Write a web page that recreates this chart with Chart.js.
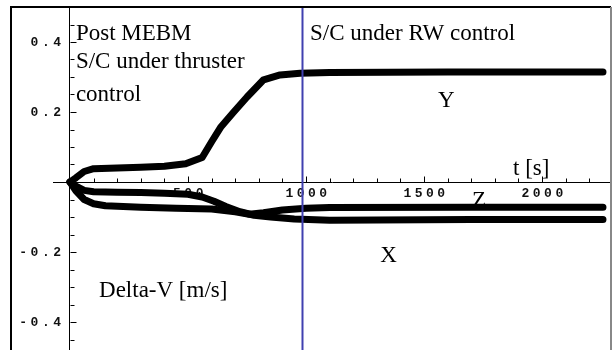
<!DOCTYPE html>
<html>
<head>
<meta charset="utf-8">
<script src="https://cdn.jsdelivr.net/npm/chart.js@4"></script>
<style>
  html, body { margin: 0; padding: 0; background: #fff; }
  #wrap { width: 613px; height: 350px; }
</style>
</head>
<body>
<div id="wrap"><canvas id="DeltaVChart" width="613" height="350"></canvas></div>
<script>
// ================= Data =================
const yTime  = [0, 25, 60, 100, 200, 300, 400, 490, 560, 600, 640, 690, 750, 820, 890, 975, 1100, 1600, 2258];
const yDelta = [0, 0.012, 0.03, 0.038, 0.04, 0.042, 0.045, 0.052, 0.07, 0.115, 0.158, 0.197, 0.243, 0.292, 0.306, 0.311, 0.313, 0.314, 0.314];

const xTime  = [0, 25, 60, 100, 200, 300, 400, 500, 560, 610, 660, 720, 780, 850, 950, 1100, 1500, 1700, 2258];
const xDelta = [0, -0.012, -0.024, -0.028, -0.029, -0.03, -0.032, -0.035, -0.043, -0.055, -0.07, -0.085, -0.095, -0.1, -0.106, -0.109, -0.108, -0.107, -0.107];

const zTime  = [0, 25, 60, 100, 150, 300, 450, 600, 700, 760, 820, 900, 1000, 1100, 1700, 2258];
const zDelta = [0, -0.025, -0.05, -0.062, -0.068, -0.072, -0.075, -0.077, -0.085, -0.092, -0.088, -0.08, -0.075, -0.073, -0.072, -0.072];

const switchTime = 985; // thruster -> RW control

const xTickLabels = [500, 1000, 1500, 2000];
const yTickLabels = [0.4, 0.2, -0.2, -0.4];

// text notes, placed in data coordinates
const noteText = ['Post MEBM', 'S/C under thruster', 'control', 'S/C under RW control', 'Y', 't [s]', 'Z', 'X', 'Delta-V [m/s]'];
const noteT    = [25, 25, 25, 1017, 1559, 1877, 1703, 1314, 123];
const noteV    = [0.406, 0.326, 0.232, 0.406, 0.214, 0.02, -0.071, -0.229, -0.329];

const toPoints = (ts, vs) => ts.map((t, i) => ({ x: t, y: vs[i] }));

// ================= Axes decoration (Mathematica style) =================
const axisDecor = {
  id: 'axisDecor',
  beforeDatasetsDraw(chart) {
    const { ctx, scales: { x, y } } = chart;
    const x0 = Math.round(x.getPixelForValue(0)) + 0.5;
    const y0 = Math.round(y.getPixelForValue(0)) + 0.5;
    ctx.save();
    ctx.strokeStyle = '#000';
    ctx.lineWidth = 1;

    // x ticks every 100, pointing up
    for (let t = 100; t <= 2200; t += 100) {
      const px = Math.round(x.getPixelForValue(t)) + 0.5;
      const len = xTickLabels.includes(t) ? 6 : 4;
      ctx.beginPath(); ctx.moveTo(px, y0); ctx.lineTo(px, y0 - len); ctx.stroke();
    }
    // y ticks every 0.05, pointing right
    for (let k = -9; k <= 9; k++) {
      if (k === 0) continue;
      const py = Math.round(y.getPixelForValue(k * 0.05)) + 0.5;
      const len = k % 4 === 0 ? 6 : 4;
      ctx.beginPath(); ctx.moveTo(x0, py); ctx.lineTo(x0 + len, py); ctx.stroke();
    }

    // tick labels
    ctx.fillStyle = '#111';
    ctx.font = 'bold 13px "Liberation Mono"';
    ctx.letterSpacing = '3.5px';
    ctx.textAlign = 'center';
    ctx.textBaseline = 'top';
    xTickLabels.forEach(t => ctx.fillText(String(t), x.getPixelForValue(t) + 2, y0 + 5));
    ctx.textAlign = 'right';
    ctx.textBaseline = 'middle';
    yTickLabels.forEach(v => ctx.fillText(String(v), x0 - 6, y.getPixelForValue(v) + 1));

    // notes
    ctx.letterSpacing = '0px';
    ctx.fillStyle = '#000';
    ctx.font = '23px "Liberation Serif"';
    ctx.textAlign = 'left';
    ctx.textBaseline = 'alphabetic';
    noteText.forEach((s, i) => ctx.fillText(s, x.getPixelForValue(noteT[i]), y.getPixelForValue(noteV[i])));
    ctx.restore();
  },
  afterDraw(chart) {
    // outer frame of the figure
    const { ctx } = chart;
    ctx.save();
    ctx.lineWidth = 2;
    ctx.strokeStyle = '#000';
    ctx.beginPath();
    ctx.moveTo(11, 352); ctx.lineTo(11, 7); ctx.lineTo(611, 7);
    ctx.stroke();
    ctx.strokeStyle = '#888';
    ctx.beginPath(); ctx.moveTo(611, 7); ctx.lineTo(611, 352); ctx.stroke();
    ctx.restore();
  }
};

const curveStyle = {
  borderColor: '#000',
  borderWidth: 7,
  pointRadius: 0,
  tension: 0,
  fill: false,
  borderCapStyle: 'round',
  borderJoinStyle: 'round'
};

const ctx = document.getElementById('DeltaVChart').getContext('2d');
const chart = new Chart(ctx, {
  type: 'line',
  data: {
    datasets: [
      {
        label: 'switch',
        data: [{ x: switchTime, y: -0.48 }, { x: switchTime, y: 0.5 }],
        borderColor: '#4040b0',
        borderWidth: 2,
        pointRadius: 0,
        fill: false
      },
      Object.assign({ label: 'Y', data: toPoints(yTime, yDelta) }, curveStyle),
      Object.assign({ label: 'X', data: toPoints(xTime, xDelta) }, curveStyle),
      Object.assign({ label: 'Z', data: toPoints(zTime, zDelta) }, curveStyle)
    ]
  },
  options: {
    responsive: false,
    animation: false,
    layout: { padding: { left: 53, right: 2, top: 7, bottom: 0 } },
    plugins: { legend: { display: false }, tooltip: { enabled: false } },
    scales: {
      x: {
        type: 'linear',
        min: -72,
        max: 2292,
        position: { y: 0 },
        afterFit: s => { s.height = 0; },
        grid: { display: false },
        border: { display: true, color: '#000', width: 1 },
        ticks: { display: false }
      },
      y: {
        type: 'linear',
        min: -0.48,
        max: 0.5,
        position: { x: 0 },
        afterFit: s => { s.width = 0; },
        grid: { display: false },
        border: { display: true, color: '#000', width: 1 },
        ticks: { display: false }
      }
    }
  },
  plugins: [axisDecor]
});
</script>
</body>
</html>
